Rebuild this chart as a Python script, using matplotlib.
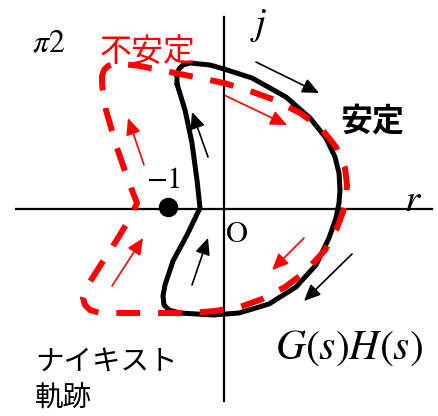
import numpy as np
import matplotlib
matplotlib.use("Agg")
import matplotlib.pyplot as plt
from matplotlib.patches import FancyArrowPatch

plt.rcParams['mathtext.fontset'] = 'stix'

# locus points (pixel coords, y down)
stable_x = [177, 177, 179, 183, 190, 210, 224, 252, 286, 310, 326, 335, 339, 340, 339,
            336, 329, 316, 296, 269, 239, 213, 180, 169, 164, 163, 165, 173, 187,
            200, 197, 192, 185, 177]
stable_y = [84, 75, 69, 65, 63, 65, 69, 78, 97, 118, 138, 157, 173, 190, 203,
            218, 238, 265, 287, 304, 313, 315, 313, 310, 305, 296, 285, 261, 235,
            208, 180, 143, 110, 84]

unstable_x = [102, 102, 104, 108, 115, 140, 170, 200, 224, 250, 275, 300, 320, 336, 345,
              347, 346, 343, 337, 325, 305, 285, 262, 240, 215, 190, 100, 90, 85, 83, 86,
              100, 118, 130, 137, 128, 116, 106, 102]
unstable_y = [85, 76, 70, 66, 63, 66, 72, 78, 83, 91, 100, 113, 127, 147, 168,
              185, 200, 212, 228, 250, 272, 287, 299, 307, 311, 313, 313, 310, 305, 298, 288,
              266, 238, 218, 203, 180, 145, 110, 85]

# direction arrows: (tail_x, tail_y, head_x, head_y)
black_arrows = [(256, 62, 319, 93), (208, 157, 192, 112),
                (192, 285, 208, 238), (352, 254, 304, 301)]
red_arrows = [(224, 95, 287, 125), (144, 165, 128, 118),
              (112, 286, 143, 238), (304, 238, 272, 270)]

minus_one = (168, 207)

fig = plt.figure(figsize=(4.38, 4.16), dpi=100)
ax = fig.add_axes([0, 0, 1, 1])
ax.set_xlim(0, 438)
ax.set_ylim(416, 0)
ax.axis('off')

# axes of the complex plane
ax.plot([16, 432], [209, 209], color='black', lw=1.6)
ax.plot([224, 224], [17, 401], color='black', lw=1.6)

ax.plot(stable_x, stable_y, color='black', lw=3.6, solid_joinstyle='round',
        solid_capstyle='round', zorder=3)
ax.plot(unstable_x, unstable_y, color='red', lw=4.3, linestyle=(0, (4, 3)),
        dash_joinstyle='round', zorder=4)

ax.plot(*minus_one, 'o', color='black', ms=13, zorder=5)

for x0, y0, x1, y1 in black_arrows:
    ax.add_patch(FancyArrowPatch((x0, y0), (x1, y1),
                                 arrowstyle='-|>,head_length=10,head_width=4.5',
                                 color='black', lw=1.2, shrinkA=0, shrinkB=0))
for x0, y0, x1, y1 in red_arrows:
    ax.add_patch(FancyArrowPatch((x0, y0), (x1, y1),
                                 arrowstyle='-|>,head_length=10,head_width=4.5',
                                 color='red', lw=1.2, shrinkA=0, shrinkB=0))

cjk = ['Noto Sans CJK JP', 'DejaVu Sans']
ax.text(32, 52, r'$\pi2$', fontsize=23, ha='left', va='baseline')
ax.text(100, 52, '不安定', fontsize=23, color='red', family=cjk,
        ha='left', va='center', zorder=6)
ax.text(259, 34, r'$j$', fontsize=28, ha='center', va='baseline')
ax.text(340, 122, '安定', fontsize=23, fontweight='bold', family=cjk,
        ha='left', va='center')
ax.text(404, 211, r'$r$', fontsize=28, ha='left', va='baseline')
ax.text(146, 188, r'$\mathrm{-1}$', fontsize=22, ha='left', va='baseline')
ax.text(226, 242, 'O', fontsize=22, family='STIXGeneral', ha='left', va='baseline')
ax.text(275, 359, r'$G\left(s\right)H\left(s\right)$', fontsize=30,
        ha='left', va='baseline')
ax.text(35, 362, 'ナイキスト', fontsize=20.5, family=cjk, ha='left', va='center')
ax.text(35, 399, '軌跡', fontsize=20.5, family=cjk, ha='left', va='center')

fig.savefig('out.png', dpi=100)
